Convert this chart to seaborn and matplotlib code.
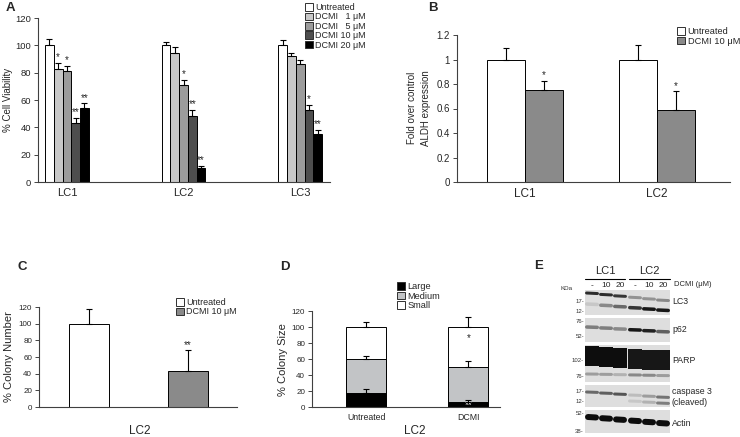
import matplotlib

matplotlib.use("Agg")
import matplotlib.pyplot as plt
import numpy as np
import pandas as pd
import seaborn as sns
from matplotlib.patches import Patch

# ---------------- data ----------------
# A: cell viability
via_lines = ["LC1", "LC2", "LC3"]
via_treatments = ["Untreated", "DCMI   1 \u03bcM", "DCMI   5 \u03bcM", "DCMI 10 \u03bcM", "DCMI 20 \u03bcM"]
via_lc1 = [100, 83, 81, 43, 54]
via_lc2 = [100, 94.5, 71, 48, 10]
via_lc3 = [100, 92.5, 86.5, 53, 35]
via_err_lc1 = [4.5, 4, 4, 4, 3.5]
via_err_lc2 = [2.5, 4, 3.5, 4.5, 2]
via_err_lc3 = [4, 2, 2.5, 3.5, 3]
via_star_lc1 = ["", "*", "*", "**", "**"]
via_star_lc2 = ["", "", "*", "**", "**"]
via_star_lc3 = ["", "", "", "*", "**"]

# B: ALDH expression
aldh_lines = ["LC1", "LC2"]
aldh_treatments = ["Untreated", "DCMI 10 \u03bcM"]
aldh_lc1 = [1.0, 0.75]
aldh_lc2 = [1.0, 0.59]
aldh_err_lc1 = [0.095, 0.075]
aldh_err_lc2 = [0.115, 0.15]
aldh_star_lc1 = ["", "*"]
aldh_star_lc2 = ["", "*"]

# C: colony number (LC2)
col_treatments = ["Untreated", "DCMI 10 \u03bcM"]
col_number = [100, 43]
col_number_err = [18, 25]
col_number_star = ["", "**"]

# D: colony size (LC2), stacked
size_groups = ["Untreated", "DCMI"]
size_classes = ["Large", "Medium", "Small"]
size_large = [18, 6]
size_medium = [42, 44]
size_small = [40, 50]
size_err_large = [4, 3]
size_err_medium = [4, 7]
size_err_small = [6, 13]
size_star_large = ["", "**"]
size_star_small = ["", "*"]

# E: western blot band intensities per lane (LC1 -,10,20 / LC2 -,10,20)
blot_lanes = ["-", "10", "20", "-", "10", "20"]
lc3_upper = [0.85, 0.85, 0.8, 0.35, 0.35, 0.4]
lc3_lower = [0.1, 0.4, 0.55, 0.8, 0.95, 0.95]
p62_band = [0.45, 0.45, 0.4, 0.95, 0.9, 0.6]
parp_full = [1, 1, 1, 0.95, 0.95, 0.95]
parp_cleaved = [0.3, 0.3, 0.2, 0.4, 0.4, 0.3]
casp3_upper = [0.55, 0.6, 0.65, 0.15, 0.3, 0.5]
casp3_lower = [0, 0, 0, 0.1, 0.2, 0.45]
actin_band = [1, 1, 1, 1, 1, 1]

# ---------------- style ----------------
W, H = 740, 437
sns.set_style("ticks")
plt.rcParams["font.family"] = ["Liberation Sans", "DejaVu Sans"]
plt.rcParams["axes.linewidth"] = 0.8
plt.rcParams["axes.edgecolor"] = "#404040"

via_colors = ["white", "#c8c8c8", "#9c9c9c", "#4e4e4e", "black"]
pair_colors = ["white", "#8a8a8a"]
size_colors = {"Large": "black", "Medium": "#c2c4c6", "Small": "white"}

fig = plt.figure(figsize=(W / 100, H / 100), dpi=100)


def px_axes(left, top, right, bottom):
    return fig.add_axes([left / W, 1 - bottom / H, (right - left) / W, (bottom - top) / H])


def fig_text(x, y, s, **kw):
    fig.text(x / W, 1 - y / H, s, **kw)


def style_axes(ax, ylim, yticks, ticksize, labelsize, xlim):
    ax.set_ylim(*ylim)
    ax.set_xlim(*xlim)
    ax.set_yticks(yticks)
    ax.tick_params(axis="y", direction="out", length=3, width=0.6, labelsize=ticksize, pad=2)
    ax.tick_params(axis="x", length=0, labelsize=labelsize, pad=4)
    ax.set_xlabel("")
    ax.set_ylabel("")
    sns.despine(ax=ax)


def add_errors(ax, bars, tops, errs, stars, star_gap, star_size=7):
    for bar, top, err, star in zip(bars, tops, errs, stars):
        cx = bar.get_x() + bar.get_width() / 2
        ax.errorbar(cx, top, yerr=[[0], [err]], fmt="none", ecolor="black",
                    elinewidth=0.8, capsize=2.2, capthick=0.8, zorder=4)
        if star:
            ax.text(cx, top + err + star_gap, star, ha="center", va="bottom",
                    fontsize=star_size, zorder=5)


def grouped(ax, lines, treatments, values, errs, stars, colors, width, star_gap):
    rows = []
    for line, vals, es, ss in zip(lines, values, errs, stars):
        for t, v, e, s in zip(treatments, vals, es, ss):
            rows.append({"line": line, "treat": t, "value": v, "err": e, "star": s})
    df = pd.DataFrame(rows)
    sns.barplot(data=df, x="line", y="value", hue="treat", order=lines,
                hue_order=treatments, palette=colors, saturation=1, width=width,
                edgecolor="black", linewidth=0.7, errorbar=None, legend=False, ax=ax)
    for container, t in zip(ax.containers, treatments):
        sub = df[df["treat"] == t].set_index("line").loc[lines]
        add_errors(ax, container, sub["value"], sub["err"], sub["star"], star_gap)


def square_legend(ax, labels, colors, x, y, size):
    handles = [Patch(facecolor=c, edgecolor="#303030", linewidth=0.7) for c in colors]
    ax.legend(handles, labels, loc="upper left", bbox_to_anchor=(x / W, 1 - y / H),
              bbox_transform=fig.transFigure, frameon=False, fontsize=size,
              handlelength=0.9, handleheight=0.9, handletextpad=0.25,
              labelspacing=0.05, borderpad=0, borderaxespad=0)


# ---------------- A ----------------
axA = px_axes(38, 18, 330, 182)
grouped(axA, via_lines, via_treatments, [via_lc1, via_lc2, via_lc3],
        [via_err_lc1, via_err_lc2, via_err_lc3],
        [via_star_lc1, via_star_lc2, via_star_lc3], via_colors, 0.376, 0.5)
style_axes(axA, (0, 120), range(0, 121, 20), 6.8, 8, (-0.248, 2.256))
square_legend(axA, via_treatments, via_colors, 305, 3, 6.5)
fig_text(8, 100, "% Cell Viability", rotation=90, ha="center", va="center", fontsize=7)
fig_text(6, 8, "A", fontsize=9.5, fontweight="bold", va="center")

# ---------------- B ----------------
axB = px_axes(457, 35, 730, 182)
grouped(axB, aldh_lines, aldh_treatments, [aldh_lc1, aldh_lc2],
        [aldh_err_lc1, aldh_err_lc2], [aldh_star_lc1, aldh_star_lc2],
        pair_colors, 0.576, 0.005)
style_axes(axB, (0, 1.2), [0, 0.2, 0.4, 0.6, 0.8, 1.0, 1.2], 7, 8.5, (-0.515, 1.553))
axB.set_yticklabels(["0", "0.2", "0.4", "0.6", "0.8", "1", "1.2"])
square_legend(axB, aldh_treatments, pair_colors, 677, 27, 6.7)
fig_text(419, 108, "Fold over control\nALDH expression", rotation=90, ha="center",
         va="center", fontsize=7, linespacing=1.5)
fig_text(428, 8, "B", fontsize=9.5, fontweight="bold", va="center")

# ---------------- C ----------------
axC = px_axes(39, 307, 237, 407)
dfC = pd.DataFrame({"treat": col_treatments, "value": col_number,
                    "err": col_number_err, "star": col_number_star})
sns.barplot(data=dfC, x="treat", y="value", hue="treat", order=col_treatments,
            hue_order=col_treatments, palette=pair_colors, saturation=1, width=0.404,
            edgecolor="black", linewidth=0.7, errorbar=None, legend=False, ax=axC)
for container, (_, row) in zip(axC.containers, dfC.iterrows()):
    add_errors(axC, container, [row["value"]], [row["err"]], [row["star"]], 0.5)
style_axes(axC, (0, 120), range(0, 121, 20), 5.8, 6.5, (-0.505, 1.495))
axC.set_xticklabels([])
square_legend(axC, col_treatments, pair_colors, 176, 298, 6.5)
fig_text(9, 357, "% Colony Number", rotation=90, ha="center", va="center", fontsize=8)
fig_text(140, 431, "LC2", ha="center", va="center", fontsize=8.5)
fig_text(17, 267, "C", fontsize=9.5, fontweight="bold", va="center")

# ---------------- D ----------------
axD = px_axes(312, 311, 500, 407)
dfD = pd.DataFrame({"group": size_groups, "Large": size_large,
                    "Medium": size_medium, "Small": size_small})
dfD["Large_top"] = dfD["Large"]
dfD["Medium_top"] = dfD["Large"] + dfD["Medium"]
dfD["Small_top"] = dfD["Medium_top"] + dfD["Small"]
# draw back to front so cumulative bars stack
for cls in ["Small", "Medium", "Large"]:
    sns.barplot(data=dfD, x="group", y=cls + "_top", order=size_groups,
                color=size_colors[cls], saturation=1, width=0.392,
                edgecolor="black", linewidth=0.7, errorbar=None, ax=axD)
bars_small, bars_medium, bars_large = axD.containers[0], axD.containers[1], axD.containers[2]
add_errors(axD, bars_large, dfD["Large_top"], size_err_large, ["", ""], 0)
add_errors(axD, bars_medium, dfD["Medium_top"], size_err_medium, ["", ""], 0)
add_errors(axD, bars_small, dfD["Small_top"], size_err_small, ["", ""], 0)
for bar, top, star in zip(bars_small, dfD["Small_top"], size_star_small):
    if star:
        axD.text(bar.get_x() + bar.get_width() / 2, top - 14, star, ha="center",
                 va="center", fontsize=7)
for bar, star in zip(bars_large, size_star_large):
    if star:
        axD.text(bar.get_x() + bar.get_width() / 2, 2, star, ha="center",
                 va="center", fontsize=7, color="white")
style_axes(axD, (0, 120), range(0, 121, 20), 5.8, 6.3, (-0.53, 1.31))
square_legend(axD, size_classes, [size_colors[c] for c in size_classes], 397, 282, 6.7)
fig_text(283, 360, "% Colony Size", rotation=90, ha="center", va="center", fontsize=8)
fig_text(415, 431, "LC2", ha="center", va="center", fontsize=8.5)
fig_text(280, 267, "D", fontsize=9.5, fontweight="bold", va="center")

# ---------------- E ----------------
axE = px_axes(555, 255, 740, 437)
axE.set_xlim(555, 740)
axE.set_ylim(437, 255)
axE.axis("off")

lane_x = [592, 606, 620, 635, 649, 663]
blot_left, blot_right = 585, 670
blot_panels = [(290, 315), (318, 342), (345, 382), (385, 407), (410, 433)]
for top, bottom in blot_panels:
    axE.bar((blot_left + blot_right) / 2, bottom - top, bottom=top,
            width=blot_right - blot_left, color="#dedede", linewidth=0)

# (intensities, first-lane y, drift per lane, thickness px)
band_rows = [
    (lc3_upper, 293, 1.4, 3.0),
    (lc3_lower, 304, 1.2, 3.5),
    (p62_band, 327, 0.9, 3.5),
    (parp_full, 356, 0.9, 20),
    (parp_cleaved, 374, 0.3, 3),
    (casp3_upper, 392, 1.0, 3),
    (casp3_lower, 398, 1.0, 3),
    (actin_band, 417, 1.2, 6),
]
half = 7.0
for inten, y0, drift, thick in band_rows:
    for i, (x, v) in enumerate(zip(lane_x, inten)):
        if v <= 0:
            continue
        shade = 0.86 - 0.81 * v
        y = y0 + drift * i
        if thick < half:
            axE.plot([x - half + thick / 2, x + half - thick / 2], [y, y + drift * 0.4],
                     color=str(shade), lw=thick * 0.72, solid_capstyle="round")
        else:
            axE.plot([x - half, x + half], [y, y], color=str(shade), lw=thick * 0.72,
                     solid_capstyle="butt")

markers = [("17-", 302), ("12-", 312), ("76-", 322), ("52-", 337), ("102-", 361),
           ("76-", 377), ("17-", 392), ("12-", 402), ("52-", 414), ("38-", 432)]
for s, y in markers:
    axE.text(584, y, s, ha="right", va="center", fontsize=4.3, color="#333333")
axE.text(567, 289, "KDa", ha="center", va="center", fontsize=4.5, color="#333333")

right_labels = [("LC3", 302), ("p62", 330), ("PARP", 361), ("caspase 3\n(cleaved)", 397),
                ("Actin", 424)]
for s, y in right_labels:
    axE.text(672, y, s, ha="left", va="center", fontsize=6.3, linespacing=1.2)

for x, s in zip(lane_x, blot_lanes):
    axE.text(x, 286, s, ha="center", va="center", fontsize=6)
axE.text(674, 285, "DCMI (\u03bcM)", ha="left", va="center", fontsize=5.5)
axE.text(605, 271, "LC1", ha="center", va="center", fontsize=8)
axE.text(649, 271, "LC2", ha="center", va="center", fontsize=8)
axE.plot([585, 625], [279, 279], color="black", lw=0.8)
axE.plot([629, 670], [279, 279], color="black", lw=0.8)
fig_text(534, 266, "E", fontsize=9.5, fontweight="bold", va="center")

fig.savefig("out.png", dpi=100)
